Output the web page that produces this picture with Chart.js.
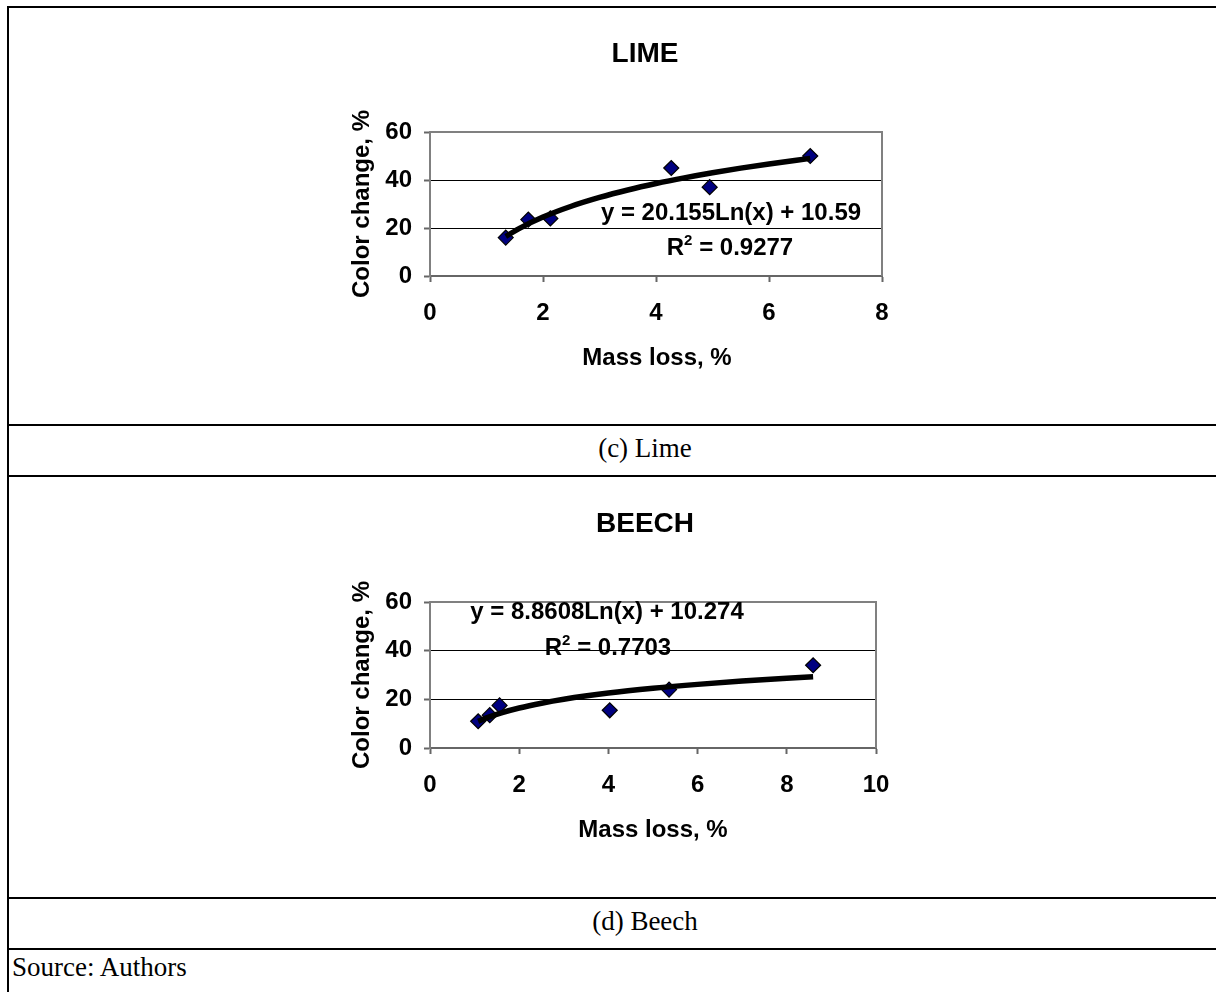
<!DOCTYPE html>
<html><head><meta charset="utf-8">
<script src="https://cdn.jsdelivr.net/npm/chart.js@4.4.1/dist/chart.umd.min.js"></script>
<style>
html,body{margin:0;padding:0;background:#fff;}
body{width:1216px;height:992px;position:relative;overflow:hidden;}
canvas{position:absolute;left:0;}
.hl{position:absolute;left:7px;width:1300px;height:2px;background:#000;}
.vl{position:absolute;left:7px;top:6px;width:2px;height:1000px;background:#000;}
.cap{position:absolute;font-family:"Liberation Serif","Times New Roman",serif;font-size:27px;line-height:27px;color:#000;white-space:nowrap;}
.ctr{transform:translateX(-50%);}
</style></head><body>
<canvas id="c1" width="1216" height="425" style="top:0"></canvas>
<canvas id="c2" width="1216" height="422" style="top:476px"></canvas>
<div class="vl"></div>
<div class="hl" style="top:6px"></div>
<div class="hl" style="top:424px"></div>
<div class="hl" style="top:475px"></div>
<div class="hl" style="top:897px"></div>
<div class="hl" style="top:948px"></div>
<div class="cap ctr" style="left:645px;top:435px">(c) Lime</div>
<div class="cap ctr" style="left:645px;top:908px">(d) Beech</div>
<div class="cap" style="left:12px;top:954px">Source: Authors</div>
<script>
// ---- data ----
const limeMassLoss    = [1.34, 1.74, 2.13, 4.27, 4.95, 6.73];
const limeColorChange = [16, 23.5, 24, 45, 37, 50];
const limeTrendX      = [1.34, 1.6, 2, 2.5, 3, 3.5, 4, 4.5, 5, 5.5, 6, 6.73];
const limeTrendY      = [16.49, 20.06, 24.56, 29.06, 32.73, 35.84, 38.53, 40.90, 43.03, 44.95, 46.70, 49.02];
const limeXTicks      = [0, 2, 4, 6, 8];
const limeYTicks      = [0, 20, 40, 60];

const beechMassLoss    = [1.08, 1.34, 1.56, 4.03, 5.36, 8.59];
const beechColorChange = [11, 13.5, 17.5, 15.5, 24, 34];
const beechTrendX      = [1.08, 1.3, 1.6, 2, 2.5, 3, 4, 5, 6, 7, 8, 8.59];
const beechTrendY      = [10.96, 12.60, 14.44, 16.42, 18.39, 20.01, 22.56, 24.53, 26.15, 27.52, 28.70, 29.33];
const beechXTicks      = [0, 2, 4, 6, 8, 10];
const beechYTicks      = [0, 20, 40, 60];

const limeTitle = 'LIME', beechTitle = 'BEECH';
const xTitle = 'Mass loss, %', yTitle = 'Color change, %';
const limeEq = 'y = 20.155Ln(x) + 10.59', limeR2 = ' = 0.9277';
const beechEq = 'y = 8.8608Ln(x) + 10.274', beechR2 = ' = 0.7703';

// ---- styling ----
const FAM = '"Liberation Sans", Arial, sans-serif';
const F24 = 'bold 24px ' + FAM;
const F28 = 'bold 28px ' + FAM;
const FSUP = 'bold 15px ' + FAM;

const framePlugin = {
  id: 'frame',
  beforeDatasetsDraw(chart) {
    const {ctx, chartArea: a} = chart;
    ctx.save();
    ctx.strokeStyle = '#808080'; ctx.lineWidth = 2;
    ctx.beginPath();
    ctx.moveTo(a.left, a.top); ctx.lineTo(a.right, a.top); ctx.lineTo(a.right, a.bottom);
    ctx.stroke();
    ctx.restore();
  }
};

const textPlugin = {
  id: 'texts',
  afterDraw(chart, args, opts) {
    const ctx = chart.ctx;
    (opts.items || []).forEach(it => {
      const parts = it.parts || [{t: it.text, font: it.font}];
      ctx.save();
      ctx.fillStyle = '#000';
      ctx.textBaseline = 'alphabetic';
      ctx.textAlign = 'left';
      ctx.translate(it.x, it.y);
      if (it.rotate) ctx.rotate(it.rotate);
      let total = 0;
      parts.forEach(p => { ctx.font = p.font; total += ctx.measureText(p.t).width; });
      let cx = -total / 2;
      parts.forEach(p => {
        ctx.font = p.font;
        ctx.fillText(p.t, cx, p.dy || 0);
        cx += ctx.measureText(p.t).width;
      });
      ctx.restore();
    });
  }
};

function makeChart(id, p) {
  const tickFont = {family: FAM, size: 24, weight: 'bold'};
  return new Chart(document.getElementById(id), {
    type: 'scatter',
    data: {
      datasets: [
        {type: 'line', data: p.trendX.map((x, i) => ({x, y: p.trendY[i]})),
         borderColor: '#000', borderWidth: 5.5, pointRadius: 0, fill: false,
         cubicInterpolationMode: 'monotone', order: 0},
        {data: p.x.map((x, i) => ({x, y: p.y[i]})), pointStyle: 'rectRot',
         pointRadius: 7.5, backgroundColor: '#000080', borderColor: '#000', borderWidth: 1.2, order: 1}
      ]
    },
    options: {
      responsive: false, animation: false, devicePixelRatio: 1,
      layout: {padding: p.pad},
      plugins: {legend: {display: false}, tooltip: {enabled: false}, texts: {items: p.texts}},
      scales: {
        x: {
          type: 'linear', position: 'bottom',
          min: p.xTicks[0], max: p.xTicks[p.xTicks.length - 1],
          afterBuildTicks: s => { s.ticks = p.xTicks.map(v => ({value: v})); },
          ticks: {font: tickFont, color: '#000', padding: 17, maxRotation: 0, autoSkip: false},
          grid: {drawOnChartArea: false, drawTicks: true, tickLength: 6, tickColor: '#666', tickWidth: 2},
          border: {color: '#666', width: 2},
          afterFit: s => { s.height = 60; s.paddingLeft = 0; s.paddingRight = 0; }
        },
        y: {
          type: 'linear', position: 'left',
          min: p.yTicks[0], max: p.yTicks[p.yTicks.length - 1],
          afterBuildTicks: s => { s.ticks = p.yTicks.map(v => ({value: v})); },
          ticks: {font: tickFont, color: '#000', padding: 12, autoSkip: false},
          grid: {color: c => (c.tick && c.tick.value === p.yTicks[p.yTicks.length - 1]) ? '#808080' : '#000',
                 lineWidth: 1, drawTicks: true, tickLength: 6, tickColor: '#666', tickWidth: 2},
          border: {color: '#808080', width: 2},
          afterFit: s => { s.width = 100; s.paddingTop = 0; s.paddingBottom = 0; }
        }
      }
    },
    plugins: [framePlugin, textPlugin]
  });
}

makeChart('c1', {
  x: limeMassLoss, y: limeColorChange, trendX: limeTrendX, trendY: limeTrendY,
  xTicks: limeXTicks, yTicks: limeYTicks,
  pad: {left: 330, right: 334, top: 132, bottom: 89},
  texts: [
    {text: limeTitle, font: F28, x: 645, y: 62},
    {text: yTitle, font: F24, x: 369, y: 204, rotate: -Math.PI / 2},
    {text: xTitle, font: F24, x: 657, y: 365},
    {text: limeEq, font: F24, x: 731, y: 220},
    {parts: [{t: 'R', font: F24}, {t: '2', font: FSUP, dy: -10}, {t: limeR2, font: F24}], x: 730, y: 255}
  ]
});

makeChart('c2', {
  x: beechMassLoss, y: beechColorChange, trendX: beechTrendX, trendY: beechTrendY,
  xTicks: beechXTicks, yTicks: beechYTicks,
  pad: {left: 330, right: 340, top: 126, bottom: 90},
  texts: [
    {text: beechTitle, font: F28, x: 645, y: 56},
    {text: yTitle, font: F24, x: 369, y: 199, rotate: -Math.PI / 2},
    {text: xTitle, font: F24, x: 653, y: 361},
    {text: beechEq, font: F24, x: 607, y: 143},
    {parts: [{t: 'R', font: F24}, {t: '2', font: FSUP, dy: -10}, {t: beechR2, font: F24}], x: 608, y: 179}
  ]
});
</script>
</body></html>
